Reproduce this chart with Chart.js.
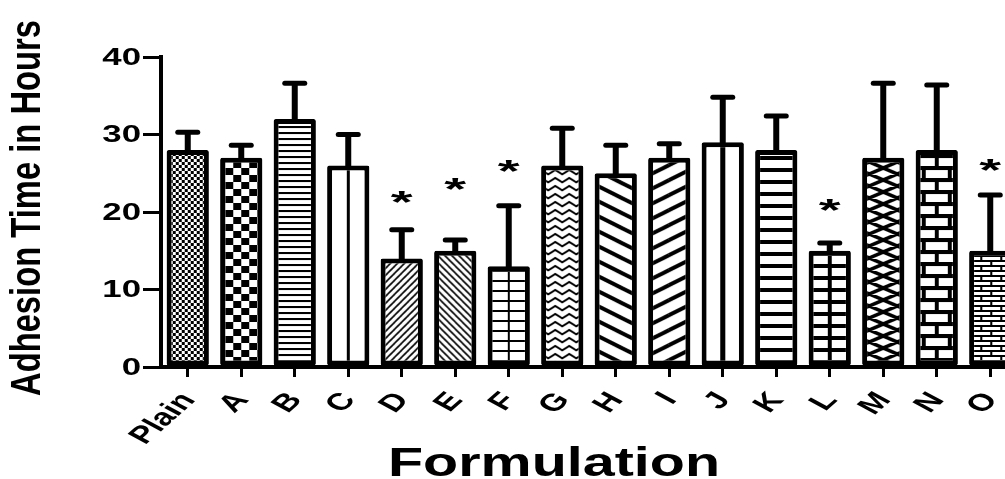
<!DOCTYPE html>
<html>
<head>
<meta charset="utf-8">
<script src="https://cdn.jsdelivr.net/npm/chart.js@4.4.1/dist/chart.umd.min.js"></script>
<style>
  html, body { margin: 0; padding: 0; background: #fff; overflow: hidden; width: 1005px; height: 479px; }
  canvas { position: absolute; left: 0; top: 0; }
</style>
</head>
<body>
<canvas id="chart" width="1017" height="479"></canvas>
<script>
const categories = ['Plain', 'A', 'B', 'C', 'D', 'E', 'F', 'G', 'H', 'I', 'J', 'K', 'L', 'M', 'N', 'O'];
const means    = [28, 27, 32, 26, 14, 15, 13, 26, 25, 27, 29, 28, 15, 27, 28, 15];
const upperErr = [30.3, 28.6, 36.6, 30, 17.7, 16.4, 20.8, 30.8, 28.6, 28.8, 34.8, 32.4, 16, 36.6, 36.4, 22.2];
const starAt   = [null, null, null, null, 22, 23.6, 25.9, null, null, null, null, null, 20.9, null, null, 26.1];
const yTitle = 'Adhesion Time in Hours';
const xTitle = 'Formulation';
const STRETCH = 1.45; // the source figure is stretched sideways

// pattern tiles, x = 0 of each tile sits on the bar centre (plus dx)
function tile(w, h, fn) {
  const c = document.createElement('canvas');
  c.width = w; c.height = h;
  const g = c.getContext('2d');
  g.fillStyle = '#fff'; g.fillRect(0, 0, w, h);
  g.fillStyle = '#000'; g.strokeStyle = '#000';
  fn(g, w, h);
  return c;
}
function wrapLines(g, w, h, segs, lw) {
  g.lineWidth = lw;
  g.beginPath();
  for (const ox of [-w, 0, w]) for (const oy of [-h, 0, h]) {
    segs.forEach(s => { g.moveTo(s[0] + ox, s[1] + oy); g.lineTo(s[2] + ox, s[3] + oy); });
  }
  g.stroke();
}

const fills = [
  { dx: 0, t: tile(6, 6, g => { g.fillRect(0, 0, 3, 3); g.fillRect(3, 3, 3, 3); }) },
  { dx: 0, t: tile(16, 14, g => { g.fillRect(0, 0, 8, 7); g.fillRect(8, 7, 8, 7); }) },
  { dx: 0, t: tile(8, 6, g => g.fillRect(0, 0, 8, 2)) },
  { dx: -1.5, t: tile(60, 10, g => g.fillRect(0, 0, 3, 10)) },
  { dx: 0, t: tile(7, 7, (g, w, h) => wrapLines(g, w, h, [[0, 7, 7, 0]], 1.6)) },
  { dx: 0, t: tile(7, 7, (g, w, h) => wrapLines(g, w, h, [[0, 0, 7, 7]], 1.6)) },
  { dx: -1, t: tile(60, 10, g => { g.fillRect(0, 0, 60, 2); g.fillRect(0, 0, 2, 10); }) },
  { dx: 0, t: tile(14, 8, g => {
      g.lineWidth = 2; g.lineJoin = 'miter'; g.beginPath();
      g.moveTo(-1, 7); g.lineTo(7, 2); g.lineTo(15, 7); g.stroke();
    }) },
  { dx: 0, t: tile(30, 15, (g, w, h) => wrapLines(g, w, h, [[0, 0, 30, 15]], 4)) },
  { dx: 0, t: tile(30, 15, (g, w, h) => wrapLines(g, w, h, [[0, 15, 30, 0]], 4)) },
  { dx: -2.5, t: tile(60, 10, g => g.fillRect(0, 0, 5, 10)) },
  { dx: 0, t: tile(10, 12, g => g.fillRect(0, 0, 10, 4)) },
  { dx: -2, t: tile(60, 12, g => { g.fillRect(0, 0, 60, 4); g.fillRect(0, 0, 4, 12); }) },
  { dx: 0, t: tile(28, 12, (g, w, h) => wrapLines(g, w, h, [[0, 0, 28, 12], [0, 12, 28, 0]], 3.5)) },
  { dx: -13, t: tile(26, 24, g => {
      g.fillRect(0, 0, 26, 24);
      g.fillStyle = '#fff';
      g.fillRect(2, 2, 22, 8); g.fillRect(15, 14, 11, 8); g.fillRect(0, 14, 11, 8);
    }) },
  { dx: 0, t: tile(20, 10, g => {
      g.fillRect(0, 0, 20, 2); g.fillRect(0, 5, 20, 2);
      g.fillRect(0, 0, 2, 5); g.fillRect(10, 5, 2, 5);
    }) }
];

const canvas = document.getElementById('chart');
const ctx = canvas.getContext('2d');
fills.forEach(f => { f.pat = ctx.createPattern(f.t, 'repeat'); });

function barFill(c) {
  const chart = c.chart;
  const f = fills[c.dataIndex];
  if (!f || !chart.chartArea) return '#fff';
  const cx = chart.scales.x.getPixelForValue(c.dataIndex);
  f.pat.setTransform(new DOMMatrix().translate(cx + f.dx, 0));
  return f.pat;
}

const errorBars = {
  id: 'errorBars',
  afterDatasetsDraw(chart) {
    const { ctx, scales: { x, y } } = chart;
    ctx.save();
    ctx.strokeStyle = '#000';
    ctx.fillStyle = '#000';
    upperErr.forEach((v, i) => {
      const cx = x.getPixelForValue(i);
      const top = y.getPixelForValue(v);
      const base = y.getPixelForValue(means[i]);
      ctx.lineCap = 'butt';
      ctx.lineWidth = 6;
      ctx.beginPath(); ctx.moveTo(cx, base + 2); ctx.lineTo(cx, top); ctx.stroke();
      ctx.lineCap = 'round';
      ctx.lineWidth = 5;
      ctx.beginPath(); ctx.moveTo(cx - 10, top); ctx.lineTo(cx + 10, top); ctx.stroke();
    });
    // significance stars
    ctx.font = 'bold 40px "Liberation Sans"';
    ctx.textAlign = 'center';
    ctx.textBaseline = 'alphabetic';
    const m = ctx.measureText('*');
    const off = (m.actualBoundingBoxAscent - m.actualBoundingBoxDescent) / 2;
    starAt.forEach((v, i) => {
      if (v == null) return;
      ctx.save();
      ctx.translate(x.getPixelForValue(i), y.getPixelForValue(v));
      ctx.scale(1.4, 0.8);
      ctx.fillText('*', 0, off);
      ctx.restore();
    });
    ctx.restore();
  }
};

// tick labels and titles, widened like the source figure
const labelsAndTitles = {
  id: 'labelsAndTitles',
  afterDraw(chart) {
    const { ctx, scales: { x, y } } = chart;
    ctx.save();
    ctx.fillStyle = '#000';

    ctx.font = 'bold 24px "Liberation Sans"';
    ctx.textAlign = 'right';
    ctx.textBaseline = 'middle';
    y.ticks.forEach(t => {
      ctx.save();
      ctx.translate(141, y.getPixelForValue(t.value) + 1);
      ctx.scale(STRETCH, 1);
      ctx.fillText(String(t.value), 0, 0);
      ctx.restore();
    });

    ctx.font = 'bold 24px "Liberation Sans"';
    ctx.textAlign = 'right';
    ctx.textBaseline = 'middle';
    categories.forEach((lab, i) => {
      ctx.save();
      ctx.translate(x.getPixelForValue(i) + 1, 396);
      ctx.scale(STRETCH, 1);
      ctx.rotate(-52 * Math.PI / 180);
      ctx.fillText(lab, 0, 0);
      ctx.restore();
    });

    ctx.textAlign = 'center';
    ctx.font = 'bold 41px "Liberation Sans"';
    let w = ctx.measureText(xTitle).width;
    ctx.save();
    ctx.translate(554, 465);
    ctx.scale(332 / w, 1);
    ctx.fillText(xTitle, 0, 0);
    ctx.restore();

    ctx.font = 'bold 42px "Liberation Sans"';
    w = ctx.measureText(yTitle).width;
    ctx.translate(28, 208);
    ctx.rotate(-Math.PI / 2);
    ctx.scale(376 / w, 1);
    ctx.fillText(yTitle, 0, 0);
    ctx.restore();
  }
};

new Chart(canvas, {
  type: 'bar',
  data: {
    labels: categories,
    datasets: [{
      data: means,
      backgroundColor: barFill,
      borderColor: '#000',
      borderWidth: 5,
      borderSkipped: false,
      borderRadius: 2,
      barPercentage: 0.79,
      categoryPercentage: 1
    }]
  },
  options: {
    responsive: false,
    animation: false,
    events: [],
    layout: { padding: { top: 57, right: 0, left: 0, bottom: 0 } },
    plugins: { legend: { display: false }, tooltip: { enabled: false } },
    scales: {
      x: {
        offset: true,
        afterFit: s => { s.height = 112; },
        grid: { drawOnChartArea: false, drawTicks: true, tickLength: 10, lineWidth: 3, color: '#000', offset: false },
        border: { display: true, color: '#000', width: 4 },
        ticks: { display: false, autoSkip: false }
      },
      y: {
        min: 0, max: 40,
        afterFit: s => { s.width = 161; },
        grid: { drawOnChartArea: false, drawTicks: true, tickLength: 18, lineWidth: 3, color: '#000' },
        border: { display: true, color: '#000', width: 4 },
        ticks: { display: false, stepSize: 10 }
      }
    }
  },
  plugins: [errorBars, labelsAndTitles]
});
</script>
</body>
</html>
